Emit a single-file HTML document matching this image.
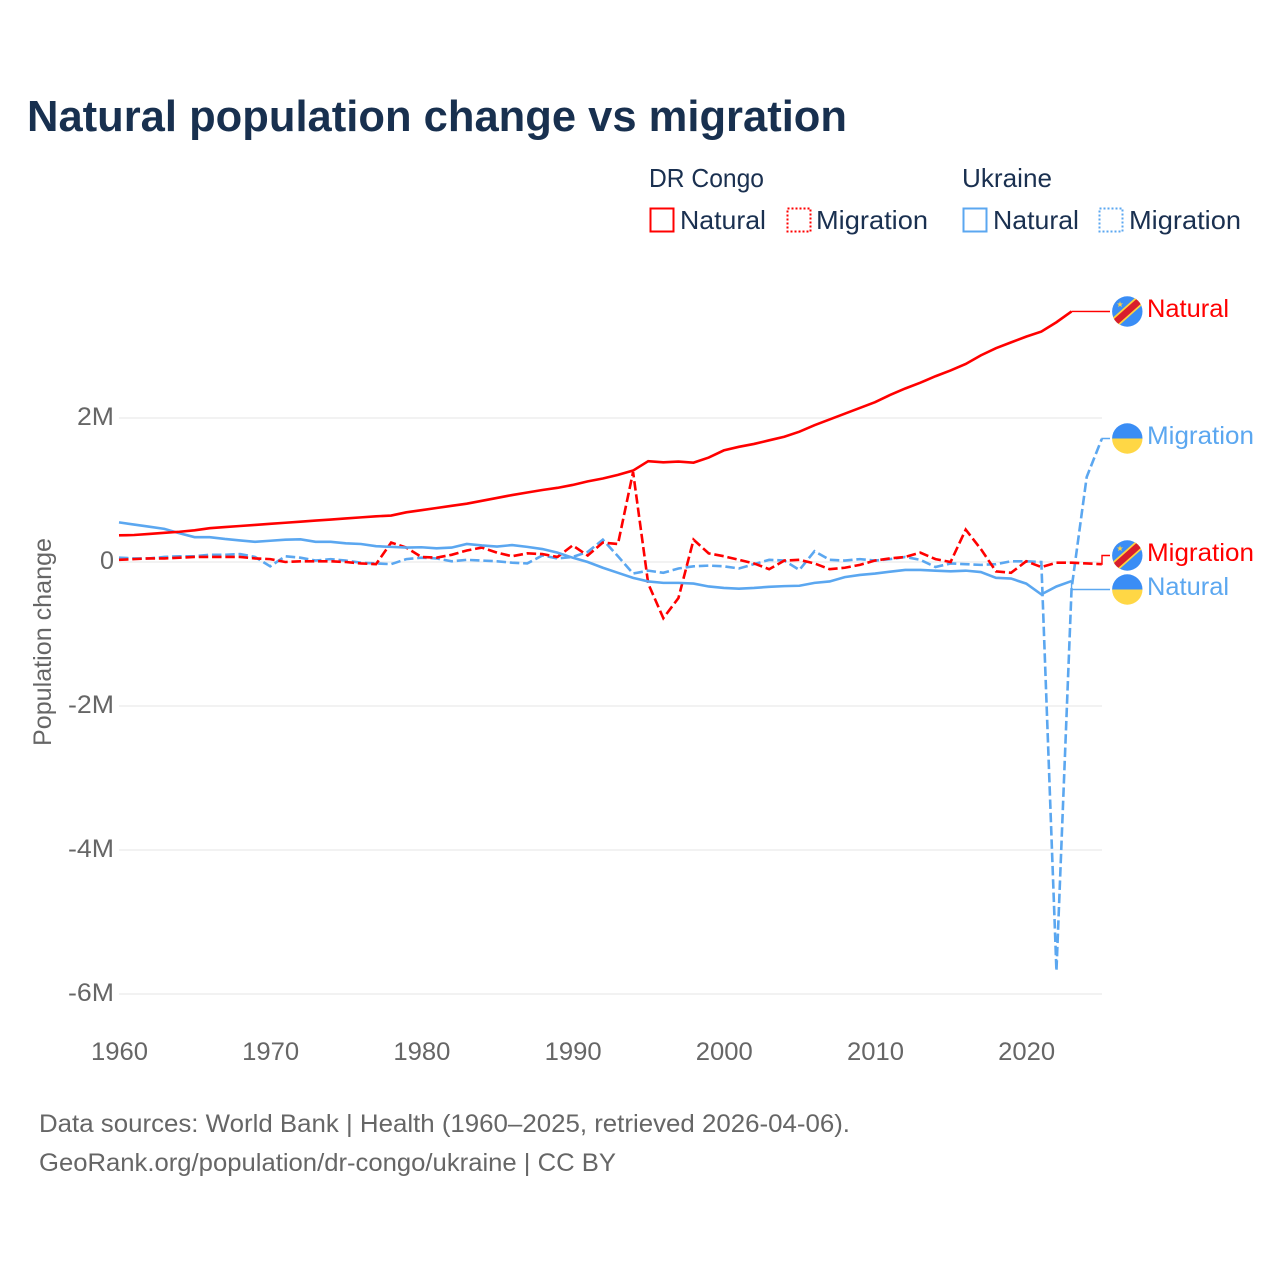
<!DOCTYPE html>
<html lang="en">
<head>
<meta charset="utf-8">
<title>Natural population change vs migration</title>
<style>
html,body{margin:0;padding:0;background:#fff;}
svg{display:block;font-family:"Liberation Sans",sans-serif;}
</style>
</head>
<body>
<svg id="chart" width="1280" height="1280" viewBox="0 0 1280 1280" xmlns="http://www.w3.org/2000/svg">
  <rect width="1280" height="1280" fill="#ffffff"/>
  <text x="27" y="131" font-size="44" font-weight="700" fill="#18304f" textLength="820" lengthAdjust="spacingAndGlyphs">Natural population change vs migration</text>

  <g font-size="26" fill="#1a3050">
    <text x="649" y="187" textLength="115" lengthAdjust="spacingAndGlyphs">DR Congo</text>
    <text x="962" y="187" textLength="90" lengthAdjust="spacingAndGlyphs">Ukraine</text>
    <rect x="650.5" y="208.5" width="23" height="23" fill="none" stroke="#ff0000" stroke-width="2"/>
    <text x="680" y="229" textLength="86" lengthAdjust="spacingAndGlyphs">Natural</text>
    <rect x="787.5" y="208.5" width="23" height="23" fill="none" stroke="#ff0000" stroke-width="2" stroke-dasharray="2 2"/>
    <text x="816" y="229" textLength="112" lengthAdjust="spacingAndGlyphs">Migration</text>
    <rect x="963.5" y="208.5" width="23" height="23" fill="none" stroke="#5ba7f0" stroke-width="2"/>
    <text x="993" y="229" textLength="86" lengthAdjust="spacingAndGlyphs">Natural</text>
    <rect x="1099.5" y="208.5" width="23" height="23" fill="none" stroke="#5ba7f0" stroke-width="2" stroke-dasharray="2 2"/>
    <text x="1129" y="229" textLength="112" lengthAdjust="spacingAndGlyphs">Migration</text>
  </g>

  <g id="grid"></g>
  <g id="yticks"></g>
  <g id="xticks"></g>
  <text transform="translate(51,746) rotate(-90)" font-size="25" fill="#666666" textLength="208" lengthAdjust="spacingAndGlyphs">Population change</text>
  <g id="series"></g>

  <defs>
    <clipPath id="flag-clip"><circle cx="0" cy="0" r="15.2"/></clipPath>
  </defs>
  <g transform="translate(1127.3,311.5)" clip-path="url(#flag-clip)">
    <rect x="-16" y="-16" width="32" height="32" fill="#3a8df5"/>
    <line x1="-18" y1="16" x2="18" y2="-16" stroke="#ffd23f" stroke-width="10"/>
    <line x1="-18" y1="16" x2="18" y2="-16" stroke="#d81e2c" stroke-width="6.5"/>
    <polygon points="-7.3,-10.2 -6.54,-8.05 -4.26,-7.99 -6.06,-6.6 -5.42,-4.41 -7.3,-5.7 -9.18,-4.41 -8.54,-6.6 -10.34,-7.99 -8.06,-8.05" fill="#ffd23f"/>
  </g>
  <g transform="translate(1127.3,438.5)" clip-path="url(#flag-clip)">
    <rect x="-16" y="-16" width="32" height="16" fill="#3a8df5"/>
    <rect x="-16" y="0" width="32" height="16" fill="#ffd745"/>
  </g>
  <g transform="translate(1127.3,555.5)" clip-path="url(#flag-clip)">
    <rect x="-16" y="-16" width="32" height="32" fill="#3a8df5"/>
    <line x1="-18" y1="16" x2="18" y2="-16" stroke="#ffd23f" stroke-width="10"/>
    <line x1="-18" y1="16" x2="18" y2="-16" stroke="#d81e2c" stroke-width="6.5"/>
    <polygon points="-7.3,-10.2 -6.54,-8.05 -4.26,-7.99 -6.06,-6.6 -5.42,-4.41 -7.3,-5.7 -9.18,-4.41 -8.54,-6.6 -10.34,-7.99 -8.06,-8.05" fill="#ffd23f"/>
  </g>
  <g transform="translate(1127.3,589.5)" clip-path="url(#flag-clip)">
    <rect x="-16" y="-16" width="32" height="16" fill="#3a8df5"/>
    <rect x="-16" y="0" width="32" height="16" fill="#ffd745"/>
  </g>

  <g font-size="25">
    <text x="1147" y="317" fill="#ff0000" textLength="82" lengthAdjust="spacingAndGlyphs">Natural</text>
    <text x="1147" y="444" fill="#5ba7f0" textLength="107" lengthAdjust="spacingAndGlyphs">Migration</text>
    <text x="1147" y="561" fill="#ff0000" textLength="107" lengthAdjust="spacingAndGlyphs">Migration</text>
    <text x="1147" y="595" fill="#5ba7f0" textLength="82" lengthAdjust="spacingAndGlyphs">Natural</text>
  </g>

  <g font-size="25" fill="#666666">
    <text x="39" y="1132" textLength="811" lengthAdjust="spacingAndGlyphs">Data sources: World Bank | Health (1960–2025, retrieved 2026-04-06).</text>
    <text x="39" y="1171" textLength="577" lengthAdjust="spacingAndGlyphs">GeoRank.org/population/dr-congo/ukraine | CC BY</text>
  </g>
</svg>
<script>
const startYear = 1960;
const yTickValues = [2, 0, -2, -4, -6];
const yTickLabels = ["2M", "0", "-2M", "-4M", "-6M"];
const yTickWidths = [37, 14, 46, 46, 46];
const xTickValues = [1960, 1970, 1980, 1990, 2000, 2010, 2020];

const congoNatural = [0.37,0.375,0.39,0.405,0.42,0.44,0.47,0.485,0.50,0.515,0.53,0.545,0.56,0.575,0.59,0.605,0.62,0.635,0.645,0.69,0.72,0.75,0.78,0.81,0.85,0.89,0.93,0.965,1.0,1.03,1.07,1.12,1.16,1.21,1.27,1.40,1.385,1.395,1.38,1.45,1.55,1.60,1.64,1.69,1.74,1.81,1.90,1.98,2.06,2.14,2.22,2.32,2.41,2.49,2.58,2.66,2.75,2.87,2.97,3.05,3.13,3.20,3.33,3.48];
const ukraineNatural = [0.55,0.52,0.49,0.46,0.40,0.345,0.345,0.32,0.30,0.28,0.295,0.31,0.315,0.28,0.28,0.26,0.25,0.22,0.21,0.20,0.205,0.19,0.20,0.25,0.23,0.215,0.235,0.21,0.18,0.13,0.06,0,-0.08,-0.15,-0.22,-0.27,-0.29,-0.29,-0.30,-0.34,-0.36,-0.37,-0.36,-0.345,-0.335,-0.33,-0.29,-0.27,-0.21,-0.18,-0.16,-0.135,-0.11,-0.11,-0.12,-0.13,-0.12,-0.14,-0.22,-0.23,-0.30,-0.45,-0.34,-0.265];
const congoMigration = [0.03,0.04,0.05,0.05,0.06,0.07,0.07,0.07,0.07,0.05,0.04,0,0.01,0.01,0.01,0,-0.02,-0.03,0.27,0.2,0.07,0.06,0.1,0.16,0.2,0.13,0.08,0.12,0.11,0.07,0.23,0.09,0.27,0.25,1.25,-0.3,-0.78,-0.5,0.31,0.12,0.08,0.03,-0.02,-0.1,0.02,0.03,-0.02,-0.1,-0.08,-0.04,0.02,0.05,0.07,0.13,0.04,0,0.45,0.18,-0.13,-0.15,0.01,-0.07,-0.01,-0.01,-0.02,-0.03];
const ukraineMigration = [0.06,0.05,0.05,0.07,0.08,0.08,0.1,0.1,0.11,0.07,-0.06,0.08,0.06,0.02,0.04,0.02,-0.01,-0.02,-0.03,0.04,0.06,0.05,0.01,0.03,0.02,0.01,-0.01,-0.02,0.09,0.05,0.07,0.14,0.31,0.08,-0.16,-0.12,-0.15,-0.09,-0.06,-0.05,-0.06,-0.09,-0.03,0.03,0.02,-0.11,0.15,0.03,0.02,0.04,0.02,0.04,0.07,0.03,-0.07,-0.02,-0.03,-0.04,-0.03,0.01,0.01,0,-5.68,-0.37,1.18,1.71];

const SVGNS = "http://www.w3.org/2000/svg";
const xScale = function (year) { return 119 + (year - 1960) * 15.12; };
const yScale = function (millions) { return 562 - millions * 72; };

function svgEl(tag) { return document.createElementNS(SVGNS, tag); }

const gridGroup = document.getElementById("grid");
const yTickGroup = document.getElementById("yticks");
const xTickGroup = document.getElementById("xticks");
const seriesGroup = document.getElementById("series");

yTickValues.forEach(function (v, i) {
  const line = svgEl("line");
  
  
  line.setAttribute("x1", 119);
  line.setAttribute("x2", 1102);
  line.setAttribute("y1", yScale(v));
  line.setAttribute("y2", yScale(v));
  line.setAttribute("stroke", "#e9e9e9");
  line.setAttribute("stroke-width", "1.2");
  gridGroup.appendChild(line);

  const label = svgEl("text");
  
  
  label.setAttribute("x", 114 - yTickWidths[i]);
  label.setAttribute("y", yScale(v) + 7);
  label.setAttribute("font-size", "25");
  label.setAttribute("fill", "#666666");
  label.setAttribute("textLength", yTickWidths[i]);
  label.setAttribute("lengthAdjust", "spacingAndGlyphs");
  label.textContent = yTickLabels[i];
  yTickGroup.appendChild(label);
});

xTickValues.forEach(function (year) {
  const label = svgEl("text");
  
  
  label.setAttribute("x", xScale(year) - 28);
  label.setAttribute("y", 1060);
  label.setAttribute("font-size", "25");
  label.setAttribute("fill", "#666666");
  label.setAttribute("textLength", 57);
  label.setAttribute("lengthAdjust", "spacingAndGlyphs");
  label.textContent = String(year);
  xTickGroup.appendChild(label);
});

function linePath(values) {
  return values.map(function (v, i) {
    return (i ? "L" : "M") + xScale(startYear + i).toFixed(2) + " " + yScale(v).toFixed(2);
  }).join(" ");
}

const ukraineMigrationLine = svgEl("path");


ukraineMigrationLine.setAttribute("d", linePath(ukraineMigration));
ukraineMigrationLine.setAttribute("fill", "none");
ukraineMigrationLine.setAttribute("stroke", "#5ba7f0");
ukraineMigrationLine.setAttribute("stroke-width", "2.6");
ukraineMigrationLine.setAttribute("stroke-dasharray", "9.5 3.8");
seriesGroup.appendChild(ukraineMigrationLine);

const congoMigrationLine = svgEl("path");


congoMigrationLine.setAttribute("d", linePath(congoMigration));
congoMigrationLine.setAttribute("fill", "none");
congoMigrationLine.setAttribute("stroke", "#ff0000");
congoMigrationLine.setAttribute("stroke-width", "2.6");
congoMigrationLine.setAttribute("stroke-dasharray", "9.5 3.8");
seriesGroup.appendChild(congoMigrationLine);

const ukraineNaturalLine = svgEl("path");


ukraineNaturalLine.setAttribute("d", linePath(ukraineNatural));
ukraineNaturalLine.setAttribute("fill", "none");
ukraineNaturalLine.setAttribute("stroke", "#5ba7f0");
ukraineNaturalLine.setAttribute("stroke-width", "2.6");
seriesGroup.appendChild(ukraineNaturalLine);

const congoNaturalLine = svgEl("path");


congoNaturalLine.setAttribute("d", linePath(congoNatural));
congoNaturalLine.setAttribute("fill", "none");
congoNaturalLine.setAttribute("stroke", "#ff0000");
congoNaturalLine.setAttribute("stroke-width", "2.6");
seriesGroup.appendChild(congoNaturalLine);

function connectorPath(values, labelY) {
  const i = values.length - 1;
  const px = xScale(startYear + i);
  const py = yScale(values[i]);
  const elbow = Math.max(px, 1102);
  return "M" + px.toFixed(2) + " " + py.toFixed(2) + " L" + elbow + " " + py.toFixed(2) + " L" + elbow + " " + labelY + " L1110 " + labelY;
}

const congoNaturalConnector = svgEl("path");


congoNaturalConnector.setAttribute("d", "M" + xScale(startYear + congoNatural.length - 1) + " " + yScale(congoNatural[congoNatural.length - 1]) + " L1110 311.5");
congoNaturalConnector.setAttribute("fill", "none");
congoNaturalConnector.setAttribute("stroke", "#ff0000");
congoNaturalConnector.setAttribute("stroke-width", "1.4");
seriesGroup.appendChild(congoNaturalConnector);

const ukraineNaturalConnector = svgEl("path");


ukraineNaturalConnector.setAttribute("d", "M" + xScale(startYear + ukraineNatural.length - 1) + " " + yScale(ukraineNatural[ukraineNatural.length - 1]) + " V589.5 H1110");
ukraineNaturalConnector.setAttribute("fill", "none");
ukraineNaturalConnector.setAttribute("stroke", "#5ba7f0");
ukraineNaturalConnector.setAttribute("stroke-width", "1.4");
seriesGroup.appendChild(ukraineNaturalConnector);

const congoMigrationConnector = svgEl("path");


congoMigrationConnector.setAttribute("d", connectorPath(congoMigration, 555.5));
congoMigrationConnector.setAttribute("fill", "none");
congoMigrationConnector.setAttribute("stroke", "#ff0000");
congoMigrationConnector.setAttribute("stroke-width", "1.4");
seriesGroup.appendChild(congoMigrationConnector);

const ukraineMigrationConnector = svgEl("path");


ukraineMigrationConnector.setAttribute("d", connectorPath(ukraineMigration, 438.5));
ukraineMigrationConnector.setAttribute("fill", "none");
ukraineMigrationConnector.setAttribute("stroke", "#5ba7f0");
ukraineMigrationConnector.setAttribute("stroke-width", "1.4");
seriesGroup.appendChild(ukraineMigrationConnector);
</script>
</body>
</html>
